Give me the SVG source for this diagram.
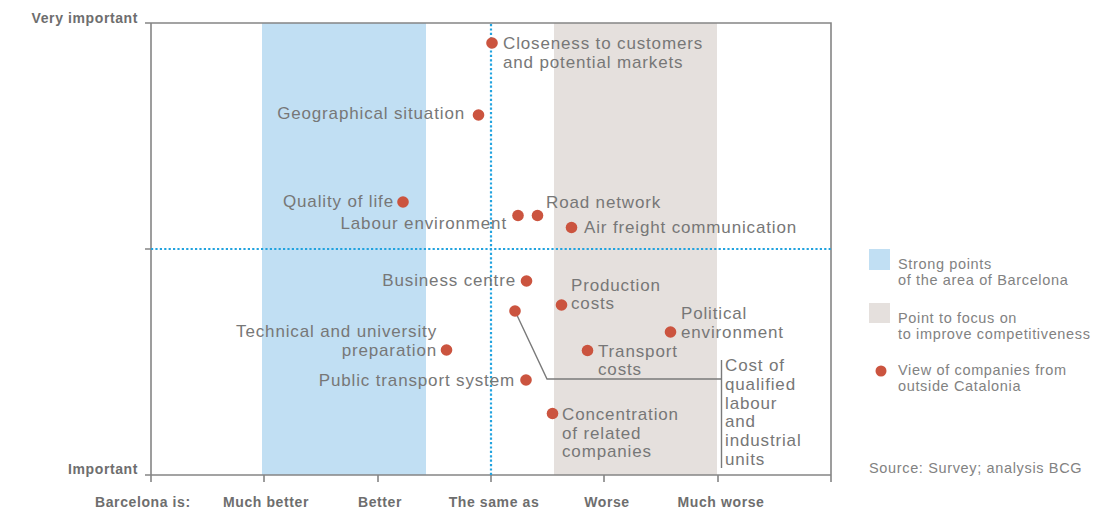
<svg xmlns="http://www.w3.org/2000/svg" width="1118" height="512" viewBox="0 0 1118 512">
<style>
.lbl{font-family:"Liberation Sans",Arial,sans-serif;font-size:17px;letter-spacing:0.85px;fill:#777777}
.end{text-anchor:end}
.ax{font-family:"Liberation Sans",Arial,sans-serif;font-size:14px;font-weight:bold;letter-spacing:0.6px;fill:#6e6e6e}
.mid{text-anchor:middle}
.leg{font-family:"Liberation Sans",Arial,sans-serif;font-size:14.5px;letter-spacing:0.65px;fill:#828282}
.axis{stroke:#858585;stroke-width:1.6;fill:none}
.dotted{stroke:#22a3df;stroke-width:2.2;stroke-dasharray:2.2 2.2;fill:none}
.pt{fill:#cb543f}
.lead{stroke:#7a7a7a;stroke-width:1.4;fill:none}
</style>
<rect width="1118" height="512" fill="#ffffff"/>
<g id="bands">
<rect x="262" y="23" width="164" height="452" fill="#c1dff3"/>
<rect x="554" y="23" width="163" height="452" fill="#e5e0dd"/>
</g>
<g id="axes">
<path class="axis" d="M145 23H831V475M151 23V475M145 249H151M145 475H831"/>
<path class="axis" d="M151 475V482M264 475V482M378 475V482M491 475V482M604 475V482M718 475V482M831 475V482"/>
<path class="dotted" d="M151 249H831"/>
<path class="dotted" d="M491 24V475"/>
<text class="ax end" x="138" y="23">Very important</text>
<text class="ax end" x="138" y="474">Important</text>
<text class="ax" x="95" y="507">Barcelona is:</text>
<text class="ax mid" x="266" y="507">Much better</text>
<text class="ax mid" x="380" y="507">Better</text>
<text class="ax mid" x="494" y="507">The same as</text>
<text class="ax mid" x="607" y="507">Worse</text>
<text class="ax mid" x="721" y="507">Much worse</text>
</g>
<g id="connectors">
<path class="lead" d="M515 311L547 379H721"/>
<path class="lead" d="M721.5 360V468"/>
</g>
<g id="closeness">
<circle class="pt" cx="492" cy="43" r="5.8"/>
<text class="lbl" x="503" y="49">Closeness to customers</text>
<text class="lbl" x="503" y="68">and potential markets</text>
</g>
<g id="geographical">
<circle class="pt" cx="478.5" cy="115" r="5.8"/>
<text class="lbl end" x="465" y="119">Geographical situation</text>
</g>
<g id="quality-of-life">
<circle class="pt" cx="403" cy="202" r="5.8"/>
<text class="lbl end" x="394" y="207">Quality of life</text>
</g>
<g id="labour-environment">
<circle class="pt" cx="518" cy="215.5" r="5.8"/>
<text class="lbl end" x="507" y="229">Labour environment</text>
</g>
<g id="road-network">
<circle class="pt" cx="537.5" cy="215.5" r="5.8"/>
<text class="lbl" x="546" y="208">Road network</text>
</g>
<g id="air-freight">
<circle class="pt" cx="571.5" cy="227.5" r="5.8"/>
<text class="lbl" x="584" y="233">Air freight communication</text>
</g>
<g id="business-centre">
<circle class="pt" cx="526.5" cy="281" r="5.8"/>
<text class="lbl end" x="516" y="286">Business centre</text>
</g>
<g id="production-costs">
<circle class="pt" cx="561.5" cy="305" r="5.8"/>
<text class="lbl" x="571" y="290.5">Production</text>
<text class="lbl" x="571" y="309">costs</text>
</g>
<g id="political-environment">
<circle class="pt" cx="670.5" cy="332" r="5.8"/>
<text class="lbl" x="681" y="319">Political</text>
<text class="lbl" x="681" y="337.5">environment</text>
</g>
<g id="technical">
<circle class="pt" cx="446.5" cy="350" r="5.8"/>
<text class="lbl end" x="437" y="336.5">Technical and university</text>
<text class="lbl end" x="437" y="356">preparation</text>
</g>
<g id="transport-costs">
<circle class="pt" cx="587.5" cy="350.5" r="5.8"/>
<text class="lbl" x="598" y="356.5">Transport</text>
<text class="lbl" x="598" y="375">costs</text>
</g>
<g id="public-transport">
<circle class="pt" cx="526" cy="380" r="5.8"/>
<text class="lbl end" x="515" y="386">Public transport system</text>
</g>
<g id="qualified-labour">
<circle class="pt" cx="515" cy="311" r="5.8"/>
<text class="lbl" x="725" y="371">Cost of</text>
<text class="lbl" x="725" y="390">qualified</text>
<text class="lbl" x="725" y="408.5">labour</text>
<text class="lbl" x="725" y="427">and</text>
<text class="lbl" x="725" y="446">industrial</text>
<text class="lbl" x="725" y="464.5">units</text>
</g>
<g id="concentration">
<circle class="pt" cx="552.5" cy="413.5" r="5.8"/>
<text class="lbl" x="562" y="419.5">Concentration</text>
<text class="lbl" x="562" y="439">of related</text>
<text class="lbl" x="562" y="457">companies</text>
</g>
<g id="legend">
<rect x="869" y="249" width="21" height="21" fill="#c1dff3"/>
<text class="leg" x="898" y="269">Strong points</text>
<text class="leg" x="898" y="285">of the area of Barcelona</text>
<rect x="869" y="303" width="21" height="20" fill="#e5e0dd"/>
<text class="leg" x="898" y="323">Point to focus on</text>
<text class="leg" x="898" y="339">to improve competitiveness</text>
<circle class="pt" cx="881" cy="371" r="5.5"/>
<text class="leg" x="898" y="375">View of companies from</text>
<text class="leg" x="898" y="391">outside Catalonia</text>
<text class="leg" x="869" y="473">Source: Survey; analysis BCG</text>
</g>
</svg>
